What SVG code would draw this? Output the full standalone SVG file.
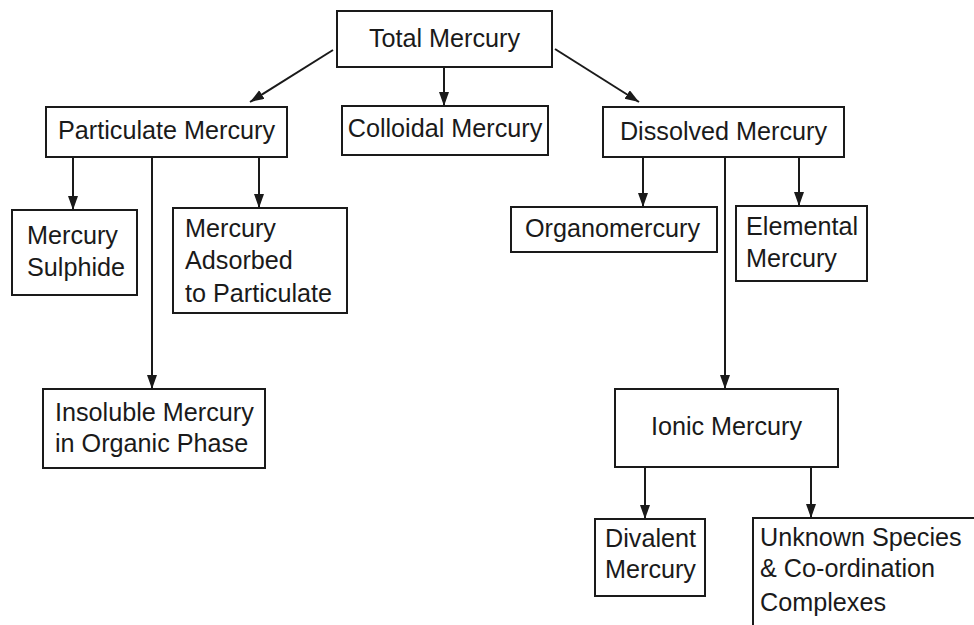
<svg xmlns="http://www.w3.org/2000/svg" width="974" height="625" viewBox="0 0 974 625">
<style>
.box{fill:#fff;stroke:#1a1a1a;stroke-width:2}
.t{font-family:"Liberation Sans",Arial,sans-serif;font-size:25.2px;fill:#1a1a1a}
.c{stroke:#1a1a1a;stroke-width:2;fill:none;marker-end:url(#ah)}
</style>
<defs>
<marker id="ah" markerUnits="userSpaceOnUse" markerWidth="16" markerHeight="12" refX="14" refY="5" orient="auto">
<path d="M0,0 L14,5 L0,10 z" fill="#1a1a1a"/>
</marker>
</defs>
<rect width="974" height="625" fill="#fff"/>
<g id="connectors">
<line class="c" x1="333" y1="50" x2="250" y2="102"/>
<line class="c" x1="444" y1="67" x2="444" y2="106"/>
<line class="c" x1="555" y1="49" x2="639" y2="102"/>
<line class="c" x1="73" y1="157" x2="73" y2="210"/>
<line class="c" x1="259" y1="157" x2="259" y2="208"/>
<line class="c" x1="152" y1="157" x2="152" y2="389"/>
<line class="c" x1="643" y1="157" x2="643" y2="207"/>
<line class="c" x1="799" y1="157" x2="799" y2="206"/>
<line class="c" x1="725" y1="157" x2="725" y2="389"/>
<line class="c" x1="645" y1="467" x2="645" y2="519"/>
<line class="c" x1="811" y1="467" x2="811" y2="518"/>
</g>
<g id="total"><rect class="box" x="337" y="11" width="215" height="56"/><text class="t" x="444.5" y="47" text-anchor="middle">Total Mercury</text></g>
<g id="particulate"><rect class="box" x="46" y="107" width="241" height="50"/><text class="t" x="166.5" y="139" text-anchor="middle">Particulate Mercury</text></g>
<g id="colloidal"><rect class="box" x="342" y="106" width="206" height="49"/><text class="t" x="445" y="137" text-anchor="middle">Colloidal Mercury</text></g>
<g id="dissolved"><rect class="box" x="603" y="107" width="241" height="50"/><text class="t" x="723.5" y="140" text-anchor="middle">Dissolved Mercury</text></g>
<g id="sulphide"><rect class="box" x="12" y="210" width="125" height="85"/><text class="t" x="27" y="244">Mercury</text><text class="t" x="27" y="276">Sulphide</text></g>
<g id="adsorbed"><rect class="box" x="173" y="208" width="174" height="105"/><text class="t" x="185" y="237">Mercury</text><text class="t" x="185" y="269">Adsorbed</text><text class="t" x="185" y="302">to Particulate</text></g>
<g id="insoluble"><rect class="box" x="43" y="389" width="222" height="79"/><text class="t" x="55" y="421">Insoluble Mercury</text><text class="t" x="55" y="452">in Organic Phase</text></g>
<g id="organo"><rect class="box" x="511" y="207" width="206" height="45"/><text class="t" x="525" y="237">Organomercury</text></g>
<g id="elemental"><rect class="box" x="736" y="206" width="131" height="75"/><text class="t" x="746" y="235">Elemental</text><text class="t" x="746" y="267">Mercury</text></g>
<g id="ionic"><rect class="box" x="615" y="389" width="223" height="78"/><text class="t" x="726.5" y="435" text-anchor="middle">Ionic Mercury</text></g>
<g id="divalent"><rect class="box" x="595" y="519" width="110" height="77"/><text class="t" x="605" y="547">Divalent</text><text class="t" x="605" y="578">Mercury</text></g>
<g id="unknown"><rect class="box" x="753" y="518" width="230" height="120"/><text class="t" x="760" y="546">Unknown Species</text><text class="t" x="760" y="577">&amp; Co-ordination</text><text class="t" x="760" y="611">Complexes</text></g>
</svg>
